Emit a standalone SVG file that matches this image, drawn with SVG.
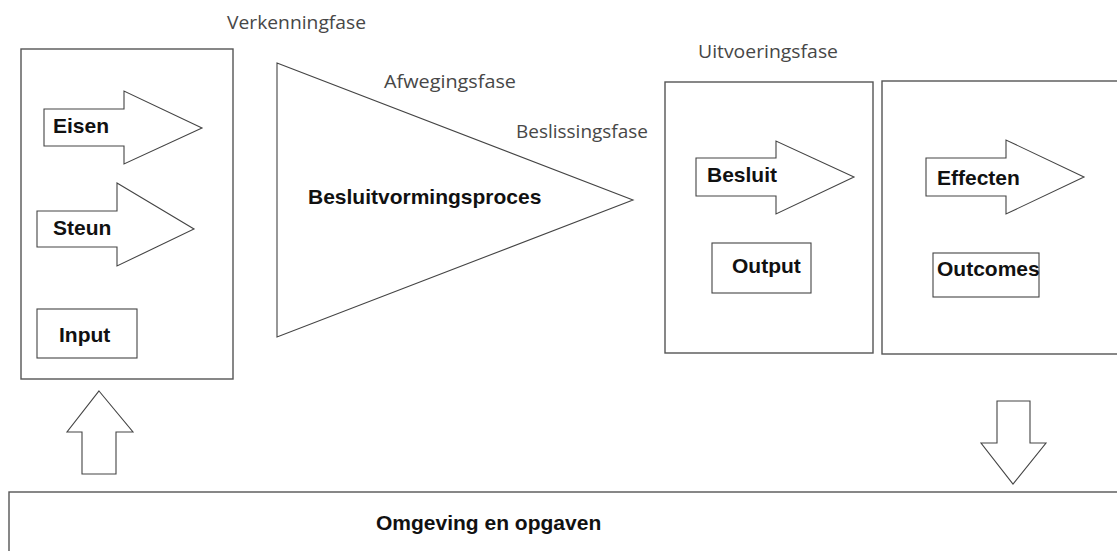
<svg xmlns="http://www.w3.org/2000/svg" width="1117" height="551" viewBox="0 0 1117 551">
  <style>
    .frame { fill: #fff; stroke: #555; stroke-width: 1.4; }
    .shape { fill: #fff; stroke: #444; stroke-width: 1.1; stroke-linejoin: miter; }
    .lbl { font-family: "Liberation Sans", Arial, sans-serif; font-weight: bold; font-size: 21px; fill: #111; }
    .phase { font-family: "Open Sans", "Liberation Sans", sans-serif; font-size: 18px; fill: #474747; }
  </style>
  <rect width="1117" height="551" fill="#fff"/>

  <!-- phase captions -->
  <g id="phases">
    <text class="phase" x="227" y="29" textLength="139" lengthAdjust="spacingAndGlyphs">Verkenningfase</text>
    <text class="phase" x="384" y="88" textLength="132" lengthAdjust="spacingAndGlyphs">Afwegingsfase</text>
    <text class="phase" x="516" y="138" textLength="132" lengthAdjust="spacingAndGlyphs">Beslissingsfase</text>
    <text class="phase" x="698" y="58" textLength="140" lengthAdjust="spacingAndGlyphs">Uitvoeringsfase</text>
  </g>

  <!-- input block -->
  <g id="input-block">
    <rect class="frame" x="21" y="49" width="212" height="330"/>
    <path class="shape" d="M44,109 H124 V91 L202,128 L124,164 V146 H44 Z"/>
    <text class="lbl" x="53" y="133">Eisen</text>
    <path class="shape" d="M37,211 H117 V183 L194,229 L117,266 V247 H37 Z"/>
    <text class="lbl" x="53" y="235">Steun</text>
    <rect class="shape" x="37" y="309" width="100" height="49"/>
    <text class="lbl" x="59" y="342">Input</text>
  </g>

  <!-- decision process -->
  <g id="process">
    <path class="shape" d="M277,63 L633,200 L277,337 Z"/>
    <text class="lbl" x="308" y="204">Besluitvormingsproces</text>
  </g>

  <!-- output block -->
  <g id="output-block">
    <rect class="frame" x="665" y="82" width="208" height="271"/>
    <path class="shape" d="M696,158 H776 V141 L854,177 L776,214 V196 H696 Z"/>
    <text class="lbl" x="707" y="182">Besluit</text>
    <rect class="shape" x="712" y="243" width="99" height="50"/>
    <text class="lbl" x="732" y="273">Output</text>
  </g>

  <!-- outcome block -->
  <g id="outcome-block">
    <rect class="frame" x="882" y="81" width="245" height="273"/>
    <path class="shape" d="M926,158 H1006 V140 L1084,177 L1006,214 V196 H926 Z"/>
    <text class="lbl" x="937" y="185">Effecten</text>
    <rect class="shape" x="933" y="253" width="106" height="44"/>
    <text class="lbl" x="937" y="276">Outcomes</text>
  </g>

  <!-- environment -->
  <g id="environment">
    <rect class="frame" x="9" y="492" width="1120" height="80"/>
    <text class="lbl" x="376" y="530">Omgeving en opgaven</text>
  </g>

  <!-- block arrows linking environment and system -->
  <g id="connectors">
    <path class="shape" d="M99,391 L133,432 H116 V474 H82 V432 H67 Z"/>
    <path class="shape" d="M997,401 H1030 V443 H1046 L1013,484 L981,443 H997 Z"/>
  </g>
</svg>
